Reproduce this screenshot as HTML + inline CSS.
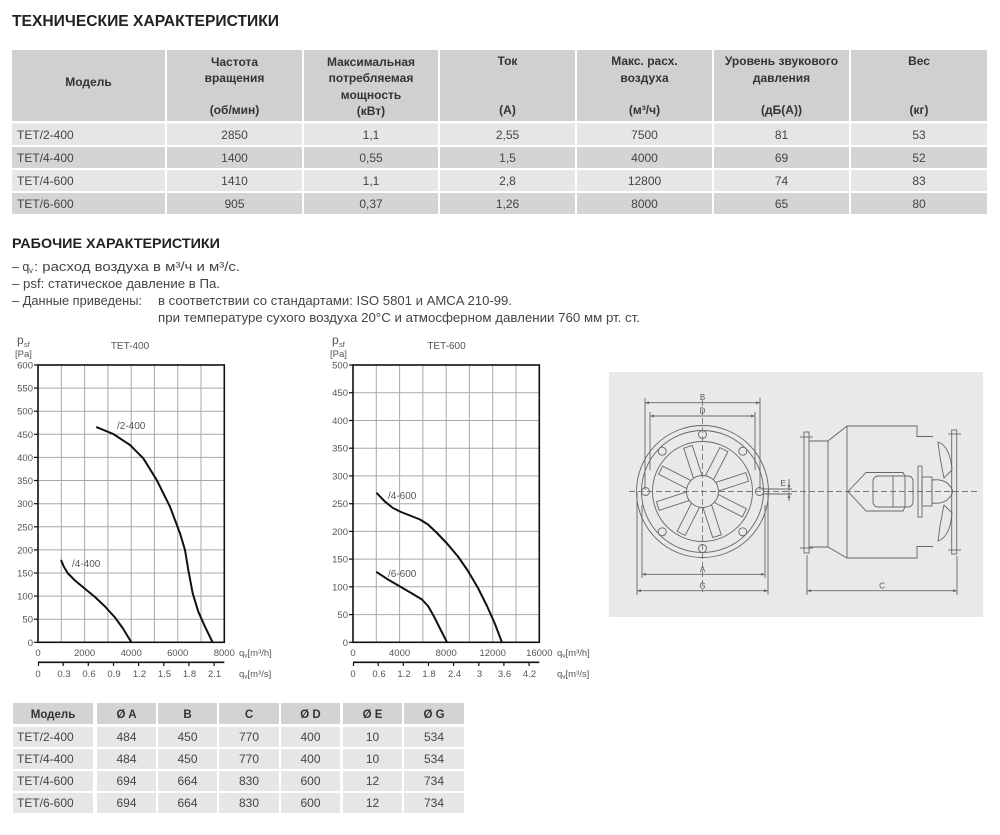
<!DOCTYPE html>
<html><head><meta charset="utf-8"><style>
html,body{margin:0;padding:0;background:#fff;}
svg{display:block;font-family:"Liberation Sans","DejaVu Sans",sans-serif;}
.h{font-weight:bold;font-size:12px;fill:#333;text-anchor:middle;}
.d{font-size:12px;fill:#444;text-anchor:middle;}
.dl{font-size:12px;fill:#444;}
.t{font-size:12.5px;fill:#444;}
.yl{font-size:9.5px;fill:#555;text-anchor:end;}
.xl{font-size:9.5px;fill:#555;text-anchor:middle;}
.cl{font-size:10px;fill:#555;}
.g{stroke:#a8a8a8;stroke-width:1;}
.c{fill:none;stroke:#111;stroke-width:2;stroke-linejoin:round;stroke-linecap:round;}
.dr{fill:none;stroke:#666;stroke-width:0.9;}
.dm{font-size:8px;fill:#555;text-anchor:middle;}
</style></head><body>
<svg width="1000" height="835" viewBox="0 0 1000 835" xmlns="http://www.w3.org/2000/svg">
<rect width="1000" height="835" fill="#fff"/>

<!-- Title 1 -->
<text x="12" y="26" font-size="15.5" font-weight="bold" fill="#222" textLength="267" lengthAdjust="spacingAndGlyphs">ТЕХНИЧЕСКИЕ ХАРАКТЕРИСТИКИ</text>

<!-- Top table -->
<g>
<rect x="12" y="50" width="153" height="71" fill="#d0d0d2"/>
<rect x="167" y="50" width="135" height="71" fill="#d0d0d2"/>
<rect x="304" y="50" width="134" height="71" fill="#d0d0d2"/>
<rect x="440" y="50" width="135" height="71" fill="#d0d0d2"/>
<rect x="577" y="50" width="135" height="71" fill="#d0d0d2"/>
<rect x="714" y="50" width="135" height="71" fill="#d0d0d2"/>
<rect x="851" y="50" width="136" height="71" fill="#d0d0d2"/>

<g fill="#e6e6e8">
<rect x="12" y="123.5" width="153" height="21.5"/><rect x="167" y="123.5" width="135" height="21.5"/><rect x="304" y="123.5" width="134" height="21.5"/><rect x="440" y="123.5" width="135" height="21.5"/><rect x="577" y="123.5" width="135" height="21.5"/><rect x="714" y="123.5" width="135" height="21.5"/><rect x="851" y="123.5" width="136" height="21.5"/>
<rect x="12" y="170" width="153" height="21"/><rect x="167" y="170" width="135" height="21"/><rect x="304" y="170" width="134" height="21"/><rect x="440" y="170" width="135" height="21"/><rect x="577" y="170" width="135" height="21"/><rect x="714" y="170" width="135" height="21"/><rect x="851" y="170" width="136" height="21"/>
</g>
<g fill="#d4d4d6">
<rect x="12" y="147" width="153" height="21"/><rect x="167" y="147" width="135" height="21"/><rect x="304" y="147" width="134" height="21"/><rect x="440" y="147" width="135" height="21"/><rect x="577" y="147" width="135" height="21"/><rect x="714" y="147" width="135" height="21"/><rect x="851" y="147" width="136" height="21"/>
<rect x="12" y="193" width="153" height="21"/><rect x="167" y="193" width="135" height="21"/><rect x="304" y="193" width="134" height="21"/><rect x="440" y="193" width="135" height="21"/><rect x="577" y="193" width="135" height="21"/><rect x="714" y="193" width="135" height="21"/><rect x="851" y="193" width="136" height="21"/>
</g>

<text class="h" x="88.5" y="86">Модель</text>
<text class="h" x="234.5" y="66">Частота</text>
<text class="h" x="234.5" y="82">вращения</text>
<text class="h" x="234.5" y="114">(об/мин)</text>
<text class="h" x="371" y="66">Максимальная</text>
<text class="h" x="371" y="82">потребляемая</text>
<text class="h" x="371" y="99">мощность</text>
<text class="h" x="371" y="115">(кВт)</text>
<text class="h" x="507.5" y="65">Ток</text>
<text class="h" x="507.5" y="114">(А)</text>
<text class="h" x="644.5" y="65">Макс. расх.</text>
<text class="h" x="644.5" y="82">воздуха</text>
<text class="h" x="644.5" y="114">(м³/ч)</text>
<text class="h" x="781.5" y="65">Уровень звукового</text>
<text class="h" x="781.5" y="82">давления</text>
<text class="h" x="781.5" y="114">(дБ(А))</text>
<text class="h" x="919" y="65">Вес</text>
<text class="h" x="919" y="114">(кг)</text>

<text class="dl" x="17" y="139">TET/2-400</text>
<text class="d" x="234.5" y="139">2850</text><text class="d" x="371" y="139">1,1</text><text class="d" x="507.5" y="139">2,55</text><text class="d" x="644.5" y="139">7500</text><text class="d" x="781.5" y="139">81</text><text class="d" x="919" y="139">53</text>
<text class="dl" x="17" y="162">TET/4-400</text>
<text class="d" x="234.5" y="162">1400</text><text class="d" x="371" y="162">0,55</text><text class="d" x="507.5" y="162">1,5</text><text class="d" x="644.5" y="162">4000</text><text class="d" x="781.5" y="162">69</text><text class="d" x="919" y="162">52</text>
<text class="dl" x="17" y="185">TET/4-600</text>
<text class="d" x="234.5" y="185">1410</text><text class="d" x="371" y="185">1,1</text><text class="d" x="507.5" y="185">2,8</text><text class="d" x="644.5" y="185">12800</text><text class="d" x="781.5" y="185">74</text><text class="d" x="919" y="185">83</text>
<text class="dl" x="17" y="208">TET/6-600</text>
<text class="d" x="234.5" y="208">905</text><text class="d" x="371" y="208">0,37</text><text class="d" x="507.5" y="208">1,26</text><text class="d" x="644.5" y="208">8000</text><text class="d" x="781.5" y="208">65</text><text class="d" x="919" y="208">80</text>
</g>

<!-- Section 2 -->
<text x="12" y="248" font-size="14" font-weight="bold" fill="#222" textLength="208" lengthAdjust="spacingAndGlyphs">РАБОЧИЕ ХАРАКТЕРИСТИКИ</text>
<text class="t" x="12" y="271">– q</text>
<text x="29" y="273" font-size="8" fill="#444">v</text>
<text class="t" x="34" y="271" textLength="206" lengthAdjust="spacingAndGlyphs">: расход воздуха в м³/ч и м³/с.</text>
<text class="t" x="12" y="288" textLength="208" lengthAdjust="spacingAndGlyphs">– psf: статическое давление в Па.</text>
<text class="t" x="12" y="305" textLength="130" lengthAdjust="spacingAndGlyphs">– Данные приведены:</text>
<text class="t" x="158" y="305" textLength="354" lengthAdjust="spacingAndGlyphs">в соответствии со стандартами: ISO 5801 и AMCA 210-99.</text>
<text class="t" x="158" y="322" textLength="482" lengthAdjust="spacingAndGlyphs">при температуре сухого воздуха 20°C и атмосферном давлении 760 мм рт. ст.</text>

<!-- Chart 1 -->
<g>
<text x="17" y="344" font-size="12" fill="#555">p</text><text x="24" y="347" font-size="7.5" fill="#555">sf</text>
<text x="15" y="357" font-size="9.5" fill="#555">[Pa]</text>
<text x="130" y="349" font-size="10" fill="#555" text-anchor="middle">TET-400</text>
<g class="g">
<line x1="61.3" y1="365" x2="61.3" y2="642.3"/><line x1="84.6" y1="365" x2="84.6" y2="642.3"/><line x1="107.9" y1="365" x2="107.9" y2="642.3"/><line x1="131.2" y1="365" x2="131.2" y2="642.3"/><line x1="154.4" y1="365" x2="154.4" y2="642.3"/><line x1="177.7" y1="365" x2="177.7" y2="642.3"/><line x1="201" y1="365" x2="201" y2="642.3"/>
<line x1="38" y1="619.2" x2="224.3" y2="619.2"/><line x1="38" y1="596.1" x2="224.3" y2="596.1"/><line x1="38" y1="573" x2="224.3" y2="573"/><line x1="38" y1="549.9" x2="224.3" y2="549.9"/><line x1="38" y1="526.8" x2="224.3" y2="526.8"/><line x1="38" y1="503.7" x2="224.3" y2="503.7"/><line x1="38" y1="480.5" x2="224.3" y2="480.5"/><line x1="38" y1="457.4" x2="224.3" y2="457.4"/><line x1="38" y1="434.3" x2="224.3" y2="434.3"/><line x1="38" y1="411.2" x2="224.3" y2="411.2"/><line x1="38" y1="388.1" x2="224.3" y2="388.1"/>
</g>
<rect x="38" y="365" width="186.3" height="277.3" fill="none" stroke="#111" stroke-width="1.6"/>
<g stroke="#111" stroke-width="1.2">
<line x1="34" y1="642.3" x2="38" y2="642.3"/><line x1="34" y1="619.2" x2="38" y2="619.2"/><line x1="34" y1="596.1" x2="38" y2="596.1"/><line x1="34" y1="573" x2="38" y2="573"/><line x1="34" y1="549.9" x2="38" y2="549.9"/><line x1="34" y1="526.8" x2="38" y2="526.8"/><line x1="34" y1="503.7" x2="38" y2="503.7"/><line x1="34" y1="480.5" x2="38" y2="480.5"/><line x1="34" y1="457.4" x2="38" y2="457.4"/><line x1="34" y1="434.3" x2="38" y2="434.3"/><line x1="34" y1="411.2" x2="38" y2="411.2"/><line x1="34" y1="388.1" x2="38" y2="388.1"/><line x1="34" y1="365" x2="38" y2="365"/>
</g>
<text class="yl" x="33" y="645.8">0</text><text class="yl" x="33" y="622.7">50</text><text class="yl" x="33" y="599.6">100</text><text class="yl" x="33" y="576.5">150</text><text class="yl" x="33" y="553.4">200</text><text class="yl" x="33" y="530.3">250</text><text class="yl" x="33" y="507.2">300</text><text class="yl" x="33" y="484">350</text><text class="yl" x="33" y="460.9">400</text><text class="yl" x="33" y="437.8">450</text><text class="yl" x="33" y="414.7">500</text><text class="yl" x="33" y="391.6">550</text><text class="yl" x="33" y="368.5">600</text>
<text class="xl" x="38" y="656">0</text><text class="xl" x="84.6" y="656">2000</text><text class="xl" x="131.2" y="656">4000</text><text class="xl" x="177.7" y="656">6000</text><text class="xl" x="224.3" y="656">8000</text>
<text x="239" y="656" font-size="9.5" fill="#555">q<tspan font-size="6.5" dy="1.5">v</tspan><tspan dy="-1.5">[m³/h]</tspan></text>
<line x1="38" y1="662.3" x2="224.3" y2="662.3" stroke="#111" stroke-width="1.6"/>
<g stroke="#111" stroke-width="1.2">
<line x1="38.5" y1="662" x2="38.5" y2="666"/><line x1="63.2" y1="662" x2="63.2" y2="666"/><line x1="88.3" y1="662" x2="88.3" y2="666"/><line x1="113.5" y1="662" x2="113.5" y2="666"/><line x1="138.6" y1="662" x2="138.6" y2="666"/><line x1="163.8" y1="662" x2="163.8" y2="666"/><line x1="188.9" y1="662" x2="188.9" y2="666"/><line x1="214.1" y1="662" x2="214.1" y2="666"/>
</g>
<text class="xl" x="38" y="677">0</text><text class="xl" x="64" y="677">0.3</text><text class="xl" x="89" y="677">0.6</text><text class="xl" x="114" y="677">0.9</text><text class="xl" x="139.5" y="677">1.2</text><text class="xl" x="164.5" y="677">1.5</text><text class="xl" x="189.5" y="677">1.8</text><text class="xl" x="214.5" y="677">2.1</text>
<text x="239" y="677" font-size="9.5" fill="#555">q<tspan font-size="6.5" dy="1.5">v</tspan><tspan dy="-1.5">[m³/s]</tspan></text>
<polyline class="c" points="97,427.3 113.3,434 130,445 143.3,458.3 156.7,480 170,506.7 180,533.3 185,550 188.3,570 192.7,593.3 198.3,611.7 205,626.7 212.3,641.7"/>
<polyline class="c" points="61.3,560.7 64,567 68,573.5 75,580.5 84,588 95,597 105,606.5 115,617.5 123,628.5 131,641.7"/>
<text class="cl" x="117" y="429">/2-400</text>
<text class="cl" x="72" y="567">/4-400</text>
</g>

<!-- Chart 2 -->
<g>
<text x="332" y="344" font-size="12" fill="#555">p</text><text x="339" y="347" font-size="7.5" fill="#555">sf</text>
<text x="330" y="357" font-size="9.5" fill="#555">[Pa]</text>
<text x="446.5" y="349" font-size="10" fill="#555" text-anchor="middle">TET-600</text>
<g class="g">
<line x1="376.3" y1="365" x2="376.3" y2="642.3"/><line x1="399.6" y1="365" x2="399.6" y2="642.3"/><line x1="422.9" y1="365" x2="422.9" y2="642.3"/><line x1="446.2" y1="365" x2="446.2" y2="642.3"/><line x1="469.4" y1="365" x2="469.4" y2="642.3"/><line x1="492.7" y1="365" x2="492.7" y2="642.3"/><line x1="516" y1="365" x2="516" y2="642.3"/>
<line x1="353" y1="614.6" x2="539.3" y2="614.6"/><line x1="353" y1="586.8" x2="539.3" y2="586.8"/><line x1="353" y1="559.1" x2="539.3" y2="559.1"/><line x1="353" y1="531.4" x2="539.3" y2="531.4"/><line x1="353" y1="503.7" x2="539.3" y2="503.7"/><line x1="353" y1="475.9" x2="539.3" y2="475.9"/><line x1="353" y1="448.2" x2="539.3" y2="448.2"/><line x1="353" y1="420.5" x2="539.3" y2="420.5"/><line x1="353" y1="392.7" x2="539.3" y2="392.7"/>
</g>
<rect x="353" y="365" width="186.3" height="277.3" fill="none" stroke="#111" stroke-width="1.6"/>
<g stroke="#111" stroke-width="1.2">
<line x1="349" y1="642.3" x2="353" y2="642.3"/><line x1="349" y1="614.6" x2="353" y2="614.6"/><line x1="349" y1="586.8" x2="353" y2="586.8"/><line x1="349" y1="559.1" x2="353" y2="559.1"/><line x1="349" y1="531.4" x2="353" y2="531.4"/><line x1="349" y1="503.7" x2="353" y2="503.7"/><line x1="349" y1="475.9" x2="353" y2="475.9"/><line x1="349" y1="448.2" x2="353" y2="448.2"/><line x1="349" y1="420.5" x2="353" y2="420.5"/><line x1="349" y1="392.7" x2="353" y2="392.7"/><line x1="349" y1="365" x2="353" y2="365"/>
</g>
<text class="yl" x="348" y="645.8">0</text><text class="yl" x="348" y="618.1">50</text><text class="yl" x="348" y="590.3">100</text><text class="yl" x="348" y="562.6">150</text><text class="yl" x="348" y="534.9">200</text><text class="yl" x="348" y="507.2">250</text><text class="yl" x="348" y="479.4">300</text><text class="yl" x="348" y="451.7">350</text><text class="yl" x="348" y="424">400</text><text class="yl" x="348" y="396.2">450</text><text class="yl" x="348" y="368.5">500</text>
<text class="xl" x="353" y="656">0</text><text class="xl" x="399.6" y="656">4000</text><text class="xl" x="446.2" y="656">8000</text><text class="xl" x="492.7" y="656">12000</text><text class="xl" x="539.3" y="656">16000</text>
<text x="557" y="656" font-size="9.5" fill="#555">q<tspan font-size="6.5" dy="1.5">v</tspan><tspan dy="-1.5">[m³/h]</tspan></text>
<line x1="353" y1="662.3" x2="539.3" y2="662.3" stroke="#111" stroke-width="1.6"/>
<g stroke="#111" stroke-width="1.2">
<line x1="353.5" y1="662" x2="353.5" y2="666"/><line x1="378.2" y1="662" x2="378.2" y2="666"/><line x1="403.3" y1="662" x2="403.3" y2="666"/><line x1="428.5" y1="662" x2="428.5" y2="666"/><line x1="453.6" y1="662" x2="453.6" y2="666"/><line x1="478.8" y1="662" x2="478.8" y2="666"/><line x1="503.9" y1="662" x2="503.9" y2="666"/><line x1="529.1" y1="662" x2="529.1" y2="666"/>
</g>
<text class="xl" x="353" y="677">0</text><text class="xl" x="379" y="677">0.6</text><text class="xl" x="404" y="677">1.2</text><text class="xl" x="429" y="677">1.8</text><text class="xl" x="454.5" y="677">2.4</text><text class="xl" x="479.5" y="677">3</text><text class="xl" x="504.5" y="677">3.6</text><text class="xl" x="529.5" y="677">4.2</text>
<text x="557" y="677" font-size="9.5" fill="#555">q<tspan font-size="6.5" dy="1.5">v</tspan><tspan dy="-1.5">[m³/s]</tspan></text>
<polyline class="c" points="377,493.3 385,501.7 393,508 401,512 410,515.5 420,519.5 428,524.5 437,533 447,543.5 458,556.5 468,571 478,588 487,606 495,624 501.7,641.7"/>
<polyline class="c" points="377,572.3 388,579.5 400,586.5 412,593.5 422,599.5 428,606 434,616.5 440,628.5 446.7,641.7"/>
<text class="cl" x="388" y="499">/4-600</text>
<text class="cl" x="388" y="577">/6-600</text>
</g>

<!-- Drawing -->
<g>
<rect x="609" y="372" width="374" height="245" fill="#e9e9ea"/>
<g class="dr">
<circle cx="702.5" cy="491.5" r="66"/>
<circle cx="702.5" cy="491.5" r="61"/>
<circle cx="702.5" cy="491.5" r="50"/>
<g transform="translate(702.5,491.5)">
<g id="bl"><rect x="-4.5" y="-47" width="9" height="32" transform="rotate(-18)"/></g>
<use href="#bl" transform="rotate(45)"/><use href="#bl" transform="rotate(90)"/><use href="#bl" transform="rotate(135)"/><use href="#bl" transform="rotate(180)"/><use href="#bl" transform="rotate(225)"/><use href="#bl" transform="rotate(270)"/><use href="#bl" transform="rotate(315)"/>
<circle cx="0" cy="0" r="16" fill="#e9e9ea"/>
<circle cx="0" cy="-57" r="4"/><circle cx="0" cy="57" r="4"/><circle cx="-57" cy="0" r="4"/><circle cx="57" cy="0" r="4"/>
<circle cx="40.3" cy="-40.3" r="4"/><circle cx="-40.3" cy="-40.3" r="4"/><circle cx="40.3" cy="40.3" r="4"/><circle cx="-40.3" cy="40.3" r="4"/>
</g>
<line x1="645" y1="402.7" x2="760" y2="402.7"/><line x1="645" y1="398" x2="645" y2="490"/><line x1="760" y1="398" x2="760" y2="490"/>
<line x1="650" y1="416" x2="755" y2="416"/><line x1="650" y1="412" x2="650" y2="470"/><line x1="755" y1="412" x2="755" y2="470"/>
<line x1="642" y1="574.3" x2="765" y2="574.3"/><line x1="642" y1="505" x2="642" y2="578"/><line x1="765" y1="505" x2="765" y2="578"/>
<line x1="637" y1="590.7" x2="768" y2="590.7"/><line x1="637" y1="492" x2="637" y2="595"/><line x1="768" y1="492" x2="768" y2="595"/>
<line x1="762" y1="489" x2="792" y2="489"/><line x1="762" y1="494" x2="792" y2="494"/><line x1="789" y1="479" x2="789" y2="501"/>
</g>
<g fill="#666">
<path d="M645,402.7 l4,-1.5 v3z M760,402.7 l-4,-1.5 v3z M650,416 l4,-1.5 v3z M755,416 l-4,-1.5 v3z M642,574.3 l4,-1.5 v3z M765,574.3 l-4,-1.5 v3z M637,590.7 l4,-1.5 v3z M768,590.7 l-4,-1.5 v3z M789,489 l-1.5,-4 h3z M789,494 l-1.5,4 h3z M807,590.7 l4,-1.5 v3z M957,590.7 l-4,-1.5 v3z"/>
</g>
<line x1="629" y1="491.5" x2="980" y2="491.5" stroke="#777" stroke-width="0.9" stroke-dasharray="6 3"/>
<line x1="702.5" y1="400" x2="702.5" y2="592" stroke="#777" stroke-width="0.9" stroke-dasharray="6 3"/>
<text class="dm" x="702.5" y="400">B</text>
<text class="dm" x="702.5" y="413.5">D</text>
<text class="dm" x="702.5" y="572">A</text>
<text class="dm" x="702.5" y="588.5">G</text>
<text class="dm" x="783" y="486">E</text>
<text class="dm" x="882" y="588.5">C</text>
<g class="dr">
<rect x="804" y="432" width="5" height="121"/>
<line x1="800" y1="437" x2="813" y2="437"/><line x1="800" y1="548" x2="813" y2="548"/>
<polyline points="809,441 828,441 847,426 917,426 917,436.5 933,436.5"/>
<polyline points="809,547 828,547 847,558 917,558 917,546.5 933,546.5"/>
<line x1="828" y1="441" x2="828" y2="547"/>
<line x1="847" y1="426" x2="847" y2="558"/>
<rect x="951.7" y="430" width="5" height="124"/>
<line x1="948" y1="434" x2="961" y2="434"/><line x1="948" y1="550" x2="961" y2="550"/>
<polygon points="848,491.5 866,472.5 903,472.5 905,476 905,507 903,511 866,511"/>
<rect x="873" y="476" width="40" height="31" rx="5"/>
<line x1="893" y1="476" x2="893" y2="507"/>
<rect x="918" y="466" width="4" height="51"/>
<rect x="922" y="477" width="10" height="29"/>
<path d="M932,480 Q948,478 953,491.5 Q948,505 932,503z"/>
<path d="M938,442 Q950,446 952,470 L944,478 Q940,460 938,442z"/>
<path d="M938,541 Q950,537 952,513 L944,505 Q940,523 938,541z"/>
<line x1="807" y1="590.7" x2="957" y2="590.7"/><line x1="807" y1="555" x2="807" y2="595"/><line x1="957" y1="556" x2="957" y2="595"/>
</g>
</g>

<!-- Bottom table -->
<g>
<g fill="#d3d3d5">
<rect x="13" y="703" width="80" height="21"/><rect x="97" y="703" width="59" height="21"/><rect x="158" y="703" width="59" height="21"/><rect x="219" y="703" width="60" height="21"/><rect x="281" y="703" width="59" height="21"/><rect x="343" y="703" width="59" height="21"/><rect x="404" y="703" width="60" height="21"/>
</g>
<g fill="#e6e6e8">
<rect x="13" y="727" width="80" height="20"/><rect x="97" y="727" width="59" height="20"/><rect x="158" y="727" width="59" height="20"/><rect x="219" y="727" width="60" height="20"/><rect x="281" y="727" width="59" height="20"/><rect x="343" y="727" width="59" height="20"/><rect x="404" y="727" width="60" height="20"/>
<rect x="13" y="749" width="80" height="20"/><rect x="97" y="749" width="59" height="20"/><rect x="158" y="749" width="59" height="20"/><rect x="219" y="749" width="60" height="20"/><rect x="281" y="749" width="59" height="20"/><rect x="343" y="749" width="59" height="20"/><rect x="404" y="749" width="60" height="20"/>
<rect x="13" y="771" width="80" height="20"/><rect x="97" y="771" width="59" height="20"/><rect x="158" y="771" width="59" height="20"/><rect x="219" y="771" width="60" height="20"/><rect x="281" y="771" width="59" height="20"/><rect x="343" y="771" width="59" height="20"/><rect x="404" y="771" width="60" height="20"/>
<rect x="13" y="793" width="80" height="20"/><rect x="97" y="793" width="59" height="20"/><rect x="158" y="793" width="59" height="20"/><rect x="219" y="793" width="60" height="20"/><rect x="281" y="793" width="59" height="20"/><rect x="343" y="793" width="59" height="20"/><rect x="404" y="793" width="60" height="20"/>
</g>
<g class="h" style="font-size:11.5px">
<text x="53" y="718">Модель</text><text x="126.5" y="718">Ø A</text><text x="187.5" y="718">B</text><text x="249" y="718">C</text><text x="310.5" y="718">Ø D</text><text x="372.5" y="718">Ø E</text><text x="434" y="718">Ø G</text>
</g>
<text class="dl" x="17" y="741">TET/2-400</text>
<text class="d" x="126.5" y="741">484</text><text class="d" x="187.5" y="741">450</text><text class="d" x="249" y="741">770</text><text class="d" x="310.5" y="741">400</text><text class="d" x="372.5" y="741">10</text><text class="d" x="434" y="741">534</text>
<text class="dl" x="17" y="763">TET/4-400</text>
<text class="d" x="126.5" y="763">484</text><text class="d" x="187.5" y="763">450</text><text class="d" x="249" y="763">770</text><text class="d" x="310.5" y="763">400</text><text class="d" x="372.5" y="763">10</text><text class="d" x="434" y="763">534</text>
<text class="dl" x="17" y="785">TET/4-600</text>
<text class="d" x="126.5" y="785">694</text><text class="d" x="187.5" y="785">664</text><text class="d" x="249" y="785">830</text><text class="d" x="310.5" y="785">600</text><text class="d" x="372.5" y="785">12</text><text class="d" x="434" y="785">734</text>
<text class="dl" x="17" y="807">TET/6-600</text>
<text class="d" x="126.5" y="807">694</text><text class="d" x="187.5" y="807">664</text><text class="d" x="249" y="807">830</text><text class="d" x="310.5" y="807">600</text><text class="d" x="372.5" y="807">12</text><text class="d" x="434" y="807">734</text>
</g>
</svg>
</body></html>
